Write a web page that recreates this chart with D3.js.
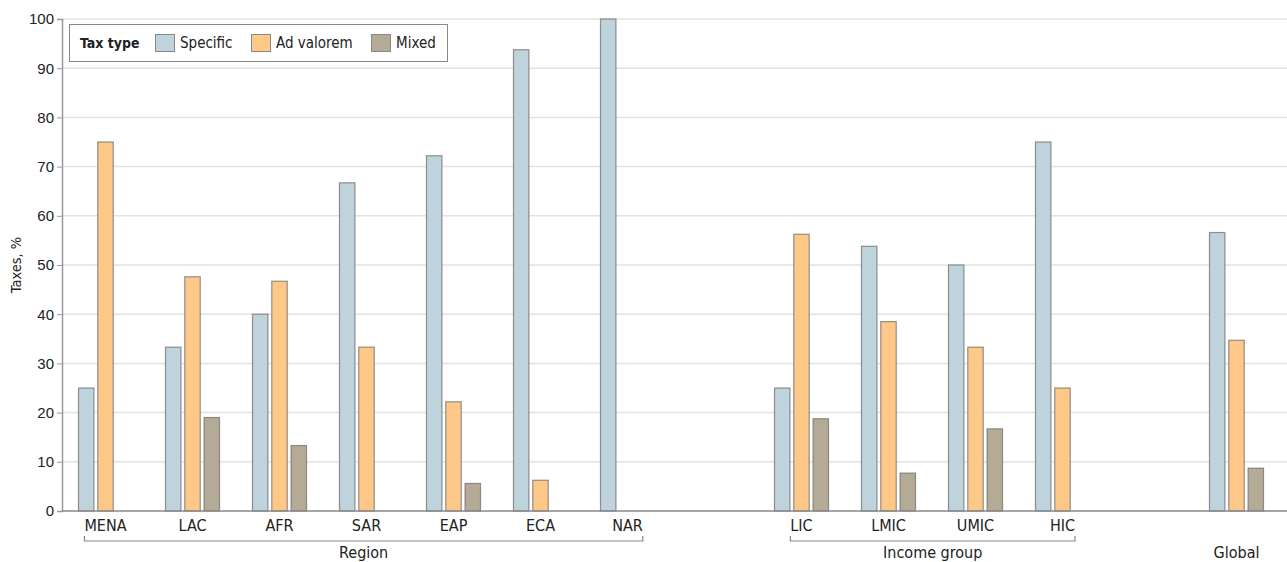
<!DOCTYPE html>
<html><head><meta charset="utf-8">
<script src="https://cdn.jsdelivr.net/npm/d3@7"></script>
<style>
body{margin:0;background:#fff;}
svg{display:block;font-family:"DejaVu Sans Condensed","Liberation Sans Narrow",sans-serif;}
</style></head><body>
<svg id="chart" width="1287" height="562"></svg>
<script>
const slots = ["MENA","LAC","AFR","SAR","EAP","ECA","NAR","_g1","LIC","LMIC","UMIC","HIC","_g2","Global"];
const categories = ["MENA","LAC","AFR","SAR","EAP","ECA","NAR","LIC","LMIC","UMIC","HIC","Global"];
const seriesNames = ["Specific","Ad valorem","Mixed"];
const specific  = [25, 33.3, 40, 66.7, 72.2, 93.75, 100, 25, 53.8, 50, 75, 56.6];
const adValorem = [75, 47.6, 46.7, 33.3, 22.2, 6.25, 0, 56.25, 38.5, 33.3, 25, 34.7];
const mixed     = [0, 19.0, 13.3, 0, 5.6, 0, 0, 18.75, 7.7, 16.7, 0, 8.7];
const yTicks = [0,10,20,30,40,50,60,70,80,90,100];
const groups = [
  {name:"Region", members:["MENA","LAC","AFR","SAR","EAP","ECA","NAR"], bracket:true},
  {name:"Income group", members:["LIC","LMIC","UMIC","HIC"], bracket:true},
  {name:"Global", members:["Global"], bracket:false}
];
const colors = {"Specific":"#bfd3dc","Ad valorem":"#fec988","Mixed":"#b5aa95"};

const svg = d3.select("#chart");
const W = 1287, H = 562;
const m = {left:62, right:7, top:19, bottom:51};
const x0 = d3.scaleBand().domain(slots).range([m.left, W - m.right]).padding(0);
const x1 = d3.scaleBand().domain(seriesNames).range([-27, 27]).paddingInner(0.2).paddingOuter(0);
const y = d3.scaleLinear().domain([0,100]).range([H - m.bottom, m.top]);

// gridlines
svg.append("g").selectAll("line").data(yTicks.filter(d=>d>0)).join("line")
  .attr("x1", m.left).attr("x2", W).attr("y1", d=>y(d)).attr("y2", d=>y(d))
  .attr("stroke","#e2e2e2").attr("stroke-width",1.5);

// y axis
const yAxis = svg.append("g").attr("transform",`translate(${m.left},0)`)
  .call(d3.axisLeft(y).tickValues(yTicks).tickSize(5).tickPadding(3));
yAxis.select(".domain").attr("stroke","#999").attr("stroke-width",1.5);
yAxis.selectAll(".tick line").attr("stroke","#999");
yAxis.selectAll("text").attr("font-size",15).attr("fill","#222").attr("font-family","inherit");

svg.append("text").attr("transform",`translate(21,${(y(0)+y(100))/2}) rotate(-90)`)
  .attr("text-anchor","middle").attr("font-size",14.5).attr("fill","#222").text("Taxes, %");

// bars
const rows = [];
categories.forEach((c,i)=>{
  [specific[i], adValorem[i], mixed[i]].forEach((v,j)=>{
    if (v > 0) rows.push({cat:c, s:seriesNames[j], v});
  });
});
svg.append("g").selectAll("rect").data(rows).join("rect")
  .attr("x", d => x0(d.cat) + x0.bandwidth()/2 + x1(d.s))
  .attr("width", x1.bandwidth())
  .attr("y", d => y(d.v))
  .attr("height", d => y(0) - y(d.v))
  .attr("fill", d => colors[d.s])
  .attr("stroke","#6f6f6f").attr("stroke-opacity",0.75).attr("stroke-width",1.2);

// baseline
svg.append("line").attr("x1", m.left).attr("x2", W).attr("y1", y(0)).attr("y2", y(0))
  .attr("stroke","#888").attr("stroke-width",1.5);

// category labels (not for single-member groups)
const labG = svg.append("g");
const labs = {};
groups.forEach(g=>{
  if (!g.bracket) return;
  g.members.forEach(c=>{
    labs[c] = labG.append("text").attr("x", x0(c)+x0.bandwidth()/2).attr("y", y(0)+20)
      .attr("text-anchor","middle").attr("font-size",16).attr("fill","#222").text(c);
  });
});

// group brackets and names
groups.forEach(g=>{
  let xa, xb;
  if (g.bracket) {
    const first = labs[g.members[0]].node().getBBox();
    const lastB = labs[g.members[g.members.length-1]].node().getBBox();
    xa = first.x; xb = lastB.x + lastB.width;
    const by = y(0) + 30;
    svg.append("path").attr("d",`M${xa},${by-5}V${by}H${xb}V${by-5}`)
      .attr("fill","none").attr("stroke","#888").attr("stroke-width",1.2);
  } else {
    const c = x0(g.members[0]) + x0.bandwidth()/2;
    xa = c; xb = c;
  }
  svg.append("text").attr("x",(xa+xb)/2).attr("y", y(0)+47)
    .attr("text-anchor","middle").attr("font-size",16).attr("fill","#222").text(g.name);
});

// legend
const lg = svg.append("g");
lg.append("rect").attr("x",69.5).attr("y",24.5).attr("width",378).attr("height",37)
  .attr("fill","#fff").attr("stroke","#888").attr("stroke-width",1);
lg.append("text").attr("x",80).attr("y",48).attr("font-size",14).attr("font-weight","bold")
  .attr("fill","#222").text("Tax type");
const legX = [155, 251, 371];
seriesNames.forEach((s,i)=>{
  lg.append("rect").attr("x",legX[i]+0.5).attr("y",34.5).attr("width",19).attr("height",17)
    .attr("fill",colors[s]).attr("stroke","#888");
  lg.append("text").attr("x",legX[i]+25).attr("y",48).attr("font-size",15).attr("fill","#222").text(s);
});
</script>
</body></html>
